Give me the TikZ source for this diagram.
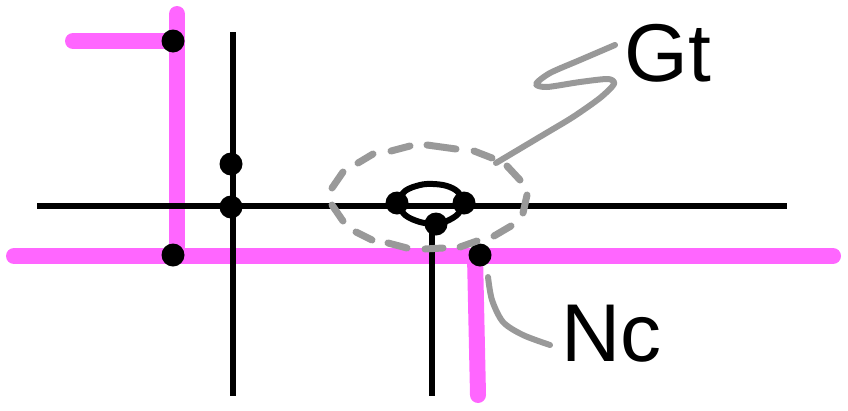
\documentclass[tikz,border=0pt]{standalone}
\usepackage{fontspec}
\setmainfont{Liberation Sans}
\definecolor{wirepink}{HTML}{FF66FF}
\definecolor{leadgrey}{HTML}{999999}
\tikzset{
  pinkwire/.style={draw=wirepink,line width=16pt,line cap=round},
  blackwire/.style={draw=black,line width=6.5pt},
  loopwire/.style={draw=black,line width=6pt},
  leader/.style={draw=leadgrey,line width=6pt,line cap=round,line join=round},
  dashseg/.style={draw=leadgrey,line width=7pt,line cap=round},
  joint/.style={circle,fill=black,draw=none,minimum size=23pt,inner sep=0pt},
  biglabel/.style={anchor=base west,inner sep=0pt,font=\fontsize{82pt}{82pt}\selectfont,text=black}
}
\begin{document}
\begin{tikzpicture}[x=1pt,y=-1pt]
\useasboundingbox (0,0) rectangle (848,410);
% free ends
\coordinate (pl) at (14,256);
\coordinate (pr) at (833,256);
\coordinate (pt) at (177,14);
\coordinate (ptl) at (73,41);
\coordinate (ptc) at (177,41);
\coordinate (pc) at (177,256);
\coordinate (pdt) at (475,256);
\coordinate (pdb) at (478,395);
\coordinate (hl) at (37,206);
\coordinate (hr) at (787,206);
\coordinate (vt) at (233,32);
\coordinate (vb) at (233,396);
\coordinate (wt) at (432,225);
\coordinate (wb) at (432,396);
% pink wires
\draw[pinkwire] (pl) -- (pr);
\draw[pinkwire] (pt) -- (pc);
\draw[pinkwire] (ptl) -- (ptc);
\draw[pinkwire] (pdt) -- (pdb);
% black wires
\draw[blackwire] (hl) -- (hr);
\draw[blackwire] (vt) -- (vb);
\draw[blackwire] (wt) -- (wb);
% joints
\node[joint] (a) at (173,41) {};
\node[joint] (b) at (231,164) {};
\node[joint] (c) at (231,207) {};
\node[joint] (d) at (173,255) {};
\node[joint] (e) at (397,203) {};
\node[joint] (f) at (464,203) {};
\node[joint] (g) at (436,224) {};
\node[joint] (h) at (480,255) {};
% loop
\draw[loopwire] plot[smooth,tension=0.6] coordinates {(e.center) (405,191) (420,185) (433,184) (447,186) (458,192) (f.center)};
\draw[loopwire] plot[smooth,tension=0.6] coordinates {(e.center) (405,215) (420,222) (g.center) (447,221) (458,214) (f.center)};
% dashed ring
\draw[dashseg] (332,188) -- (343,172);
\draw[dashseg] (358,163) -- (373,154);
\draw[dashseg] (391,151) -- (410,146);
\draw[dashseg] (427,145) -- (456,149);
\draw[dashseg] (474,151) -- (492,158);
\draw[dashseg] (507,166) -- (520,180);
\draw[dashseg] (527,195) -- (523,213);
\draw[dashseg] (511,226) -- (494,236);
\draw[dashseg] (477,241) -- (460,247);
\draw[dashseg] (443,248) -- (425,249);
\draw[dashseg] (407,248) -- (388,243);
\draw[dashseg] (372,240) -- (356,232);
\draw[dashseg] (343,221) -- (332,205);
% labels
\node[biglabel] (gt) at (624,81) {Gt};
\node[biglabel] (nc) at (561,361) {Nc};
% leaders
\coordinate (gs) at (615,45);
\coordinate (ge) at (496,163);
\coordinate (ns) at (550,345);
\coordinate (ne) at (488,277);
\draw[leader] plot[smooth,tension=0.45] coordinates {(gs) (580,60) (550,73) (536,84) (547,87) (580,82) (608,79) (614,84) (600,98) (573,117) (543,135) (ge)};
\draw[leader] plot[smooth,tension=0.5] coordinates {(ne) (492,300) (503,322) (523,335) (ns)};
\end{tikzpicture}
\end{document}
